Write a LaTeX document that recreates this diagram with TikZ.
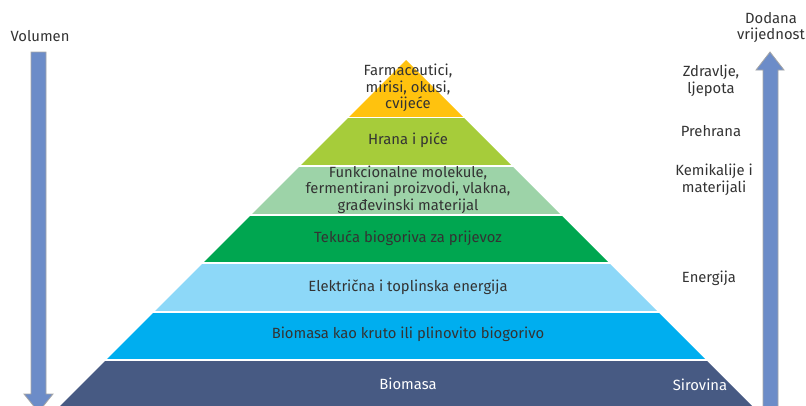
\documentclass[tikz,border=0pt]{standalone}
\usepackage{fontspec}
\setmainfont{Fira Sans}
\definecolor{cY}{HTML}{FFC20E}
\definecolor{cH}{HTML}{A6CC3A}
\definecolor{cF}{HTML}{9DD3A8}
\definecolor{cT}{HTML}{00A650}
\definecolor{cE}{HTML}{8DD8F8}
\definecolor{cB}{HTML}{00AEEF}
\definecolor{cD}{HTML}{475A83}
\definecolor{cA}{HTML}{6C8CC8}
\definecolor{cTxt}{HTML}{333333}
\tikzset{
  lbl/.style={font=\fontsize{14.8}{16.5}\selectfont, text=cTxt, align=center, inner sep=0pt},
  wlbl/.style={lbl, text=white},
  bigarrow/.style={fill=cA, draw=black!35, line width=0.8pt}
}
\begin{document}
\begin{tikzpicture}[x=1pt,y=-1pt]
\useasboundingbox (0,0) rectangle (806,405);
\begin{scope}
  \clip (406,60) -- (776,430) -- (36,430) -- cycle;
  \fill[cY] (0,0) rectangle (806,116.5);
  \fill[cH] (0,118.3) rectangle (806,164.6);
  \fill[cF] (0,166.6) rectangle (806,214.2);
  \fill[cT] (0,216) rectangle (806,262.4);
  \fill[cE] (0,264.2) rectangle (806,310.7);
  \fill[cB] (0,312.5) rectangle (806,359.2);
  \fill[cD] (0,361) rectangle (806,430);
\end{scope}
% arrows
\draw[bigarrow] (31,52) -- (46,52) -- (46,394) -- (53,394) -- (38.5,412) -- (24,394) -- (31,394) -- cycle;
\draw[bigarrow] (763,420) -- (763,70) -- (756,70) -- (770,52) -- (784,70) -- (778,70) -- (778,420) -- cycle;
% texts in pyramid
\node[lbl] (t1) at (408,88) {Farmaceutici,\\mirisi, okusi,\\cvijeće};
\node[lbl] (t2) at (408,140) {Hrana i piće};
\node[lbl] (t3) at (408,189.5) {Funkcionalne molekule,\\fermentirani proizvodi, vlakna,\\građevinski materijal};
\node[lbl] (t4) at (408,238.5) {Tekuća biogoriva za prijevoz};
\node[lbl] (t5) at (408,287) {Električna i toplinska energija};
\node[lbl] (t6) at (408,334.5) {Biomasa kao kruto ili plinovito biogorivo};
\node[wlbl] (t7) at (408,384) {Biomasa};
% side texts
\node[lbl] (vol) at (40,36) {Volumen};
\node[lbl] (dv) at (771,27.5) {Dodana\\vrijednost};
\node[lbl] (zd) at (711,81) {Zdravlje,\\ljepota};
\node[lbl] (pr) at (711,131) {Prehrana};
\node[lbl] (km) at (714,180) {Kemikalije i\\materijali};
\node[lbl] (en) at (709,278) {Energija};
\node[wlbl] (si) at (700,385) {Sirovina};
\end{tikzpicture}
\end{document}
